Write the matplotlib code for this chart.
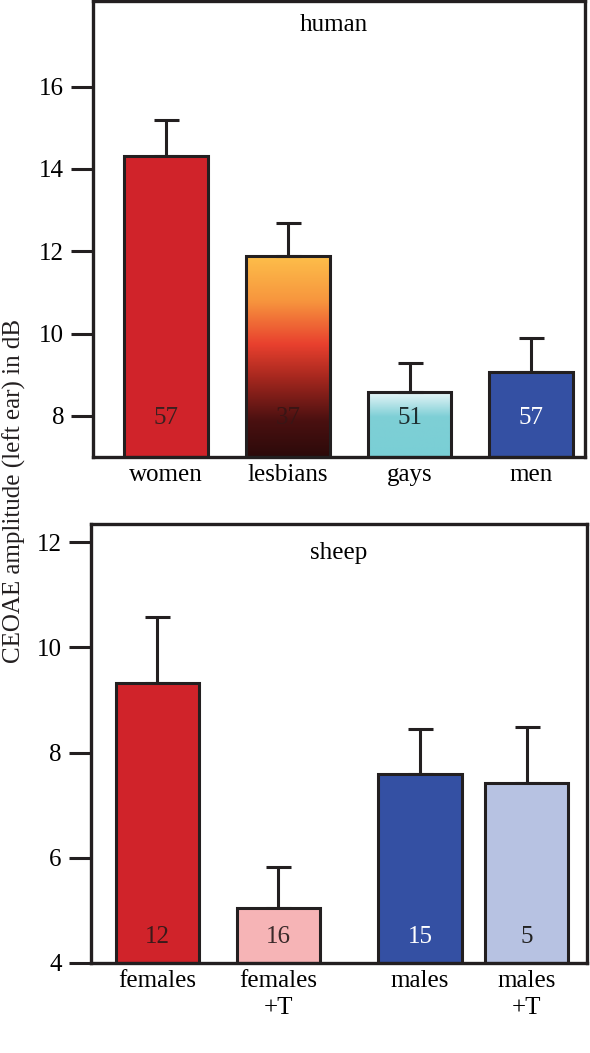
import numpy as np
import matplotlib.pyplot as plt
from matplotlib.colors import LinearSegmentedColormap

plt.rcParams['font.family'] = ['Liberation Serif', 'DejaVu Serif']

# human panel
human_groups = ['women', 'lesbians', 'gays', 'men']
human_means = [14.31, 11.88, 8.57, 9.07]
human_err = [0.89, 0.80, 0.71, 0.83]
human_n = ['57', '37', '51', '57']

# sheep panel
sheep_groups = ['females', 'females\n+T', 'males', 'males\n+T']
sheep_means = [9.33, 5.05, 7.60, 7.42]
sheep_err = [1.24, 0.77, 0.84, 1.06]
sheep_n = ['12', '16', '15', '5']

EDGE = '#231f20'
FS = 18
human_colors = ['#d0232a', None, None, '#3450a3']
human_txt = ['#3a2020', '#3a1515', '#1e2e30', 'white']
sheep_colors = ['#d0232a', '#f6b4b6', '#3450a3', '#b7c2e2']
sheep_txt = ['#3a1a1a', '#3a2a2a', 'white', '#222222']

lesb_cmap = LinearSegmentedColormap.from_list(
    'lesb', [(0, '#2c0a0a'), (0.18, '#4a1010'), (0.4, '#a8281f'),
             (0.56, '#e8402e'), (0.78, '#f7963e'), (1, '#fdbe4a')])
gays_cmap = LinearSegmentedColormap.from_list(
    'gays', [(0, '#7acfd5'), (0.62, '#7ecfd6'), (1, '#e8f6f8')])


def gradient_fill(ax, bar, cmap, y0):
    x = bar.get_x()
    w = bar.get_width()
    h = bar.get_height()
    grad = np.linspace(0, 1, 256).reshape(-1, 1)
    im = ax.imshow(grad, cmap=cmap, origin='lower', aspect='auto',
                   extent=(x, x + w, y0, y0 + h), zorder=1)
    im.set_clip_path(bar)


def style_axes(ax):
    for s in ax.spines.values():
        s.set_linewidth(2.4)
        s.set_color(EDGE)
    ax.tick_params(axis='y', direction='out', length=16, width=2.2,
                   labelsize=FS, color=EDGE, pad=5)
    ax.tick_params(axis='x', length=0, labelsize=FS, pad=5)


fig = plt.figure(figsize=(5.9, 10.53), dpi=100)

# ---- human ----
ax1 = fig.add_axes([0.158, 0.566, 0.833, 0.433])
x1 = np.arange(4)
bars1 = ax1.bar(x1, np.array(human_means) - 7, bottom=7, width=0.69,
                color=[c if c else 'none' for c in human_colors],
                edgecolor=EDGE, linewidth=2.2, zorder=2)
gradient_fill(ax1, bars1[1], lesb_cmap, 7)
gradient_fill(ax1, bars1[2], gays_cmap, 7)
ax1.errorbar(x1, human_means, yerr=[np.zeros(4), human_err], fmt='none',
             ecolor=EDGE, elinewidth=2.2, capsize=9, capthick=2.2, zorder=1.5)
for xi, n, tc in zip(x1, human_n, human_txt):
    ax1.text(xi, 7.95, n, ha='center', va='center', fontsize=FS, color=tc, zorder=3)
ax1.set_xlim(-0.6, 3.44)
ax1.set_ylim(7, 18.08)
ax1.set_yticks([8, 10, 12, 14, 16])
ax1.set_xticks(x1)
ax1.set_xticklabels(human_groups)
ax1.text(0.49, 0.947, 'human', transform=ax1.transAxes, ha='center',
         va='center', fontsize=FS)
style_axes(ax1)

# ---- sheep ----
ax2 = fig.add_axes([0.154, 0.0855, 0.841, 0.4165])
x2 = np.array([0, 1, 2.17, 3.05])
ax2.bar(x2, np.array(sheep_means) - 4, bottom=4, width=0.69,
        color=sheep_colors, edgecolor=EDGE, linewidth=2.2, zorder=2)
ax2.errorbar(x2, sheep_means, yerr=[np.zeros(4), sheep_err], fmt='none',
             ecolor=EDGE, elinewidth=2.2, capsize=9, capthick=2.2, zorder=1.5)
for xi, n, tc in zip(x2, sheep_n, sheep_txt):
    ax2.text(xi, 4.5, n, ha='center', va='center', fontsize=FS, color=tc, zorder=3)
ax2.set_xlim(-0.55, 3.55)
ax2.set_ylim(4, 12.34)
ax2.set_yticks([4, 6, 8, 10, 12])
ax2.set_xticks(x2)
ax2.set_xticklabels(sheep_groups, linespacing=1.3)
ax2.text(0.5, 0.934, 'sheep', transform=ax2.transAxes, ha='center',
         va='center', fontsize=FS)
style_axes(ax2)

fig.text(0.024, 0.534, 'CEOAE amplitude (left ear) in dB', rotation=90,
         ha='center', va='center', fontsize=FS, color='#231f20')

fig.savefig('out.png', dpi=100)
